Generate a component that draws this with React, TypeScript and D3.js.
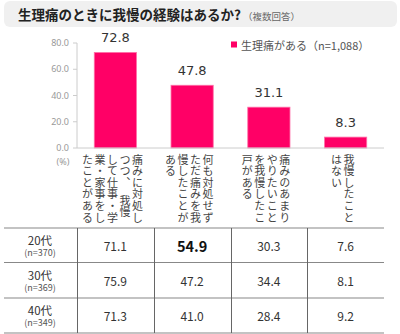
import React from "react";
import * as d3 from "d3";

const categories = ["c1", "c2", "c3", "c4"];
const categoryLines = [
  ["痛みに対処し", "つつ、　我慢", "して仕事・学", "業・家事をし", "たことがある"],
  ["何も対処せず", "ただ痛みを我", "慢したことが", "ある"],
  ["痛みのあまり", "やりたいこと", "を我慢したこ", "戸がある"],
  ["我慢したこと", "はない"],
];
const values = [72.8, 47.8, 31.1, 8.3];
const yTicks = [0, 20, 40, 60, 80];
const rowLabels = ["20代", "30代", "40代"];
const rowNs = ["(n=370)", "(n=369)", "(n=349)"];
const tableValues = [
  [71.1, 54.9, 30.3, 7.6],
  [75.9, 47.2, 34.4, 8.1],
  [71.3, 41.0, 28.4, 9.2],
];
const boldCell = [0, 1];

const W = 400;
const H = 334;
const JP = "'Noto Sans CJK JP', 'Noto Sans', sans-serif";
const PINK = "#ff0066";

export default function App() {
  const x = d3.scaleBand<string>().domain(categories).range([77, 384]).paddingInner(0.45).paddingOuter(0.225);
  const y = d3.scaleLinear().domain([0, 80]).range([148, 43]);
  const rowY = d3.scaleBand<number>().domain([0, 1, 2]).range([228, 333]);
  const colStep = 12.5;

  return (
    <div style={{ position: "fixed", left: 0, top: 0 }}>
      <svg width={W} height={H} style={{ display: "block", background: "#fff" }}>
        {/* title bar */}
        <rect x={4} y={1} width={393} height={26} rx={6} fill="#f0f0f0" />
        <text x={18} y={20} fontFamily={JP} fontSize={13.5} fontWeight="bold" fill="#222">
          生理痛のときに我慢の経験はあるか?
          <tspan fontSize={9.5} fontWeight="normal" fill="#666" dx={2}>（複数回答）</tspan>
        </text>

        {/* legend */}
        <rect x={231} y={41.5} width={6} height={6} fill={PINK} />
        <text x={241} y={45} dominantBaseline="central" fontFamily={JP} fontSize={11} fill="#555">
          生理痛がある（n=1,088）
        </text>

        {/* y axis */}
        <line x1={77} x2={77} y1={y(80)} y2={y(0)} stroke="#ccc" />
        {yTicks.map((t) => (
          <g key={t}>
            <line x1={73} x2={77} y1={y(t)} y2={y(t)} stroke="#ccc" />
            <text x={69} y={y(t)} dy="0.35em" textAnchor="end" fontFamily="'Noto Sans', sans-serif" fontSize={9} fill="#999">
              {t.toFixed(1)}
            </text>
          </g>
        ))}
        <text x={63} y={162} dy="0.35em" textAnchor="middle" fontFamily="'Noto Sans', sans-serif" fontSize={9} fill="#999">(%)</text>

        {/* bars */}
        {categories.map((c, i) => (
          <g key={c}>
            <rect
              x={x(c)!}
              y={y(values[i])}
              width={x.bandwidth()}
              height={y(0) - y(values[i])}
              fill={PINK}
              stroke="#ff70a8"
              strokeWidth={0.8}
            />
            <text
              x={x(c)! + x.bandwidth() / 2}
              y={y(values[i]) - 10}
              textAnchor="middle"
              fontFamily="'DejaVu Sans', sans-serif"
              fontSize={13}
              fill="#333"
            >
              {values[i].toFixed(1)}
            </text>
          </g>
        ))}
        <line x1={77} x2={384} y1={y(0)} y2={y(0)} stroke="#ccc" />

        {/* vertical category labels */}
        {categories.map((c, i) => {
          const lines = categoryLines[i];
          const center = x(c)! + x.bandwidth() / 2 - 3;
          const right = center + ((lines.length - 1) * colStep) / 2;
          return (
            <g key={c}>
              {lines.map((ln, j) => (
                <text
                  key={j}
                  x={right - j * colStep}
                  y={154}
                  fontFamily={JP}
                  fontSize={11}
                  fill="#444"
                  style={{ writingMode: "vertical-rl", letterSpacing: "0.6px" } as any}
                >
                  {ln}
                </text>
              ))}
            </g>
          );
        })}

        {/* table */}
        {[228, 262.5, 298, 333].map((ly, k) => (
          <line key={k} x1={4} x2={384} y1={ly} y2={ly} stroke="#888" strokeWidth={1.2} />
        ))}
        {[77, 154, 231, 307].map((lx, k) => (
          <line key={k} x1={lx + 0.5} x2={lx + 0.5} y1={228} y2={333} stroke="#666" strokeWidth={1} />
        ))}
        {rowLabels.map((rl, r) => {
          const cy = rowY(r)! + rowY.bandwidth() / 2;
          return (
            <g key={rl}>
              <text x={40} y={cy - 6} textAnchor="middle" dominantBaseline="central" fontFamily={JP} fontSize={11.5} fill="#333">{rl}</text>
              <text x={40} y={cy + 7} textAnchor="middle" dominantBaseline="central" fontFamily={JP} fontSize={9} fill="#555">{rowNs[r]}</text>
              {tableValues[r].map((v, ci) => {
                const bold = boldCell[0] === r && boldCell[1] === ci;
                return (
                  <text
                    key={ci}
                    x={x(categories[ci])! + x.bandwidth() / 2}
                    y={cy}
                    textAnchor="middle"
                    dominantBaseline="central"
                    fontFamily={JP}
                    fontSize={bold ? 14.5 : 12}
                    fontWeight={bold ? "bold" : "normal"}
                    fill={bold ? "#111" : "#333"}
                  >
                    {v.toFixed(1)}
                  </text>
                );
              })}
            </g>
          );
        })}
      </svg>
    </div>
  );
}
